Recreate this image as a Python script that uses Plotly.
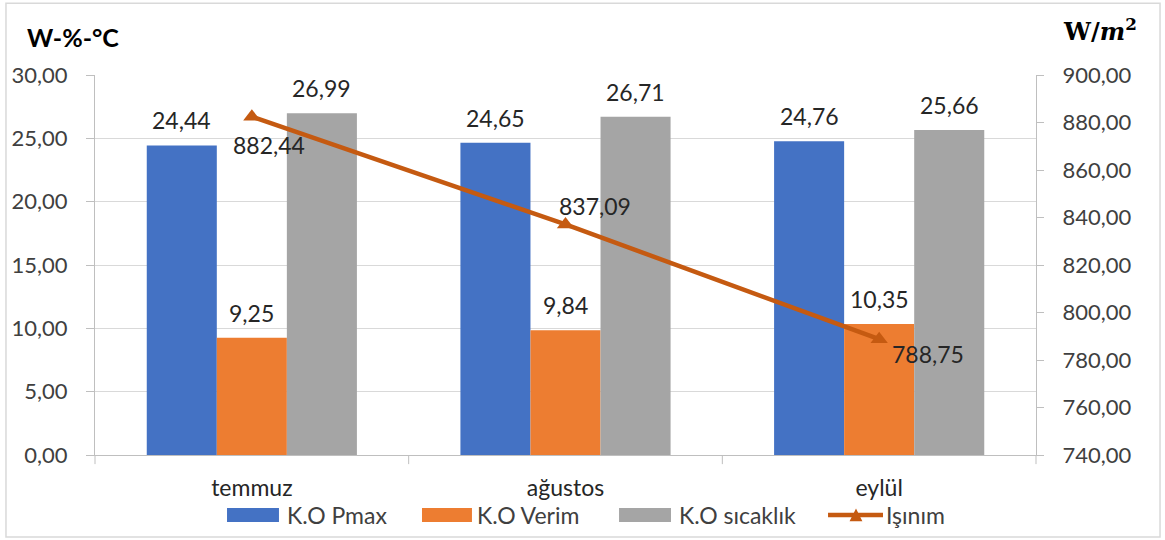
import plotly.graph_objects as go

months = ["temmuz", "ağustos", "eylül"]
pmax = [24.44, 24.65, 24.76]
verim = [9.25, 9.84, 10.35]
sicaklik = [26.99, 26.71, 25.66]
isinim = [882.44, 837.09, 788.75]

# pixel offsets of the Işınım value labels from their markers
isinim_shift = [(17, -28), (29, 18), (49, -15)]

FONT = "Lato"
LBL = dict(size=23, color="#262626", family=FONT)


def fmt(v):
    return f"{v:.2f}".replace(".", ",")


fig = go.Figure()

bar_specs = [("K.O Pmax", pmax, "#4472C4", -70),
             ("K.O Verim", verim, "#ED7D31", 0),
             ("K.O sıcaklık", sicaklik, "#A5A5A5", 70)]
for name, vals, col, dx in bar_specs:
    fig.add_trace(go.Bar(x=months, y=vals, name=name, marker_color=col,
                         marker_line_width=0))
    for m, v in zip(months, vals):
        fig.add_annotation(x=m, y=v, xref="x", yref="y", text=fmt(v),
                           showarrow=False, xshift=dx, yshift=25,
                           font=LBL)

fig.add_trace(go.Scatter(
    x=months, y=isinim, name="Işınım", yaxis="y2",
    mode="lines+markers",
    line=dict(color="#C55A11", width=4.5),
    marker=dict(symbol="triangle-up", size=15, color="#C55A11"),
    cliponaxis=False,
))
for m, v, (dx, dy) in zip(months, isinim, isinim_shift):
    fig.add_annotation(x=m, y=v, xref="x", yref="y2", text=fmt(v),
                       showarrow=False, xshift=dx, yshift=dy, font=LBL)

fig.update_layout(
    width=1165, height=540,
    margin=dict(l=95, r=129, t=75, b=85, autoexpand=False),
    paper_bgcolor="white", plot_bgcolor="white",
    separators=",.",
    barmode="group", bargap=0.33, bargroupgap=0,
    font=dict(family=FONT, size=22, color="#404040"),
    showlegend=False,
    xaxis=dict(showline=True, linecolor="#BFBFBF", linewidth=1,
               ticks="", ticklabelstandoff=12,
               tickfont=dict(size=23, color="#262626"),
               showgrid=False),
    yaxis=dict(range=[0, 30], dtick=5, tickformat=".2f",
               showgrid=True, gridcolor="#D9D9D9", gridwidth=1,
               showline=True, linecolor="#BFBFBF",
               ticks="outside", tickcolor="#BFBFBF", ticklen=8,
               ticklabelstandoff=14,
               tickfont=dict(size=22, color="#404040"), zeroline=False),
    yaxis2=dict(range=[740, 900], dtick=20, tickformat=".2f", overlaying="y",
                side="right", showgrid=False, showline=True, linecolor="#BFBFBF",
                ticks="outside", tickcolor="#BFBFBF", ticklen=7,
                ticklabelstandoff=14,
                tickfont=dict(size=22, color="#404040"), zeroline=False),
)

# category separator ticks below the x axis
for xs in [0, 1 / 3, 2 / 3, 1]:
    fig.add_shape(type="line", xref="paper", yref="paper", x0=xs, x1=xs,
                  y0=0, y1=-0.024, line=dict(color="#BFBFBF", width=1))

# axis titles
fig.add_annotation(text="<b>W-%-°C</b>", xref="paper", yref="paper",
                   x=-0.0744, y=1.10, xanchor="left", yanchor="middle",
                   showarrow=False, font=dict(size=25, color="#000000", family=FONT))
fig.add_annotation(text="<b>W/<i>m</i><sup>2</sup></b>", xref="paper", yref="paper",
                   x=1.068, y=1.118, xanchor="center", yanchor="middle",
                   showarrow=False, font=dict(size=24, color="#000000", family="DejaVu Serif"))

# legend row
LEG_Y = -0.158
swatches = [("K.O Pmax", "#4472C4", 0.1403, 0.1955, 0.2019),
            ("K.O Verim", "#ED7D31", 0.3475, 0.4006, 0.4038),
            ("K.O sıcaklık", "#A5A5A5", 0.5569, 0.6121, 0.6185)]
for label, col, x0, x1, tx in swatches:
    fig.add_shape(type="rect", xref="paper", yref="paper", x0=x0, x1=x1,
                  y0=-0.1395, y1=-0.1763, fillcolor=col, line_width=0)
    fig.add_annotation(text=label, xref="paper", yref="paper", x=tx, y=LEG_Y,
                       xanchor="left", yanchor="middle", showarrow=False,
                       font=dict(size=23, color="#404040", family=FONT))
fig.add_shape(type="line", xref="paper", yref="paper", x0=0.7790, x1=0.8374,
              y0=LEG_Y, y1=LEG_Y, line=dict(color="#C55A11", width=4.5))
fig.add_shape(type="path", xref="paper", yref="paper",
              path="M 0.8019 -0.1745 L 0.8155 -0.1745 L 0.8087 -0.1405 Z",
              fillcolor="#C55A11", line_width=0)
fig.add_annotation(text="Işınım", xref="paper", yref="paper", x=0.8384, y=LEG_Y,
                   xanchor="left", yanchor="middle", showarrow=False,
                   font=dict(size=23, color="#404040", family=FONT))

# outer frame
fig.add_shape(type="rect", xref="paper", yref="paper",
              x0=-0.0946, x1=1.1318, y0=-0.216, y1=1.189,
              line=dict(color="#D9D9D9", width=1.5), layer="below")

fig.write_html("out.html")
